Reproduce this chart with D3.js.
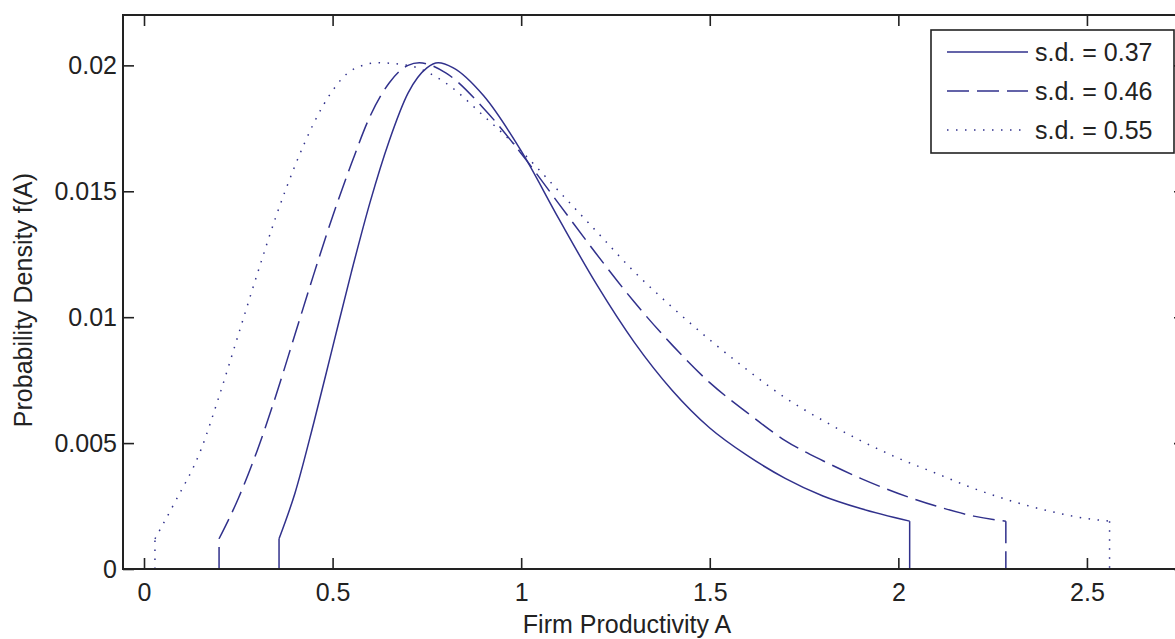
<!DOCTYPE html>
<html lang="en">
<head>
<meta charset="utf-8" />
<title>Firm Productivity Density</title>
<script src="https://d3js.org/d3.v7.min.js"></script>
<style>
  body { margin: 0; background: #fff; }
  svg { display: block; }
  .axis text { font-family: "Liberation Sans", Arial, sans-serif; font-size: 25px; fill: #222; }
  .axis line { stroke: #222; stroke-width: 1.6; }
  .axis path { display: none; }
  .lab { font-family: "Liberation Sans", Arial, sans-serif; font-size: 25px; fill: #222; }
</style>
</head>
<body>
<div id="chart"></div>
<script>
var width = 1175;
var height = 639;

// values
var xTicks = [0, 0.5, 1, 1.5, 2, 2.5];
var xTickLabels = ["0", "0.5", "1", "1.5", "2", "2.5"];
var yTicks = [0, 0.005, 0.01, 0.015, 0.02];
var yTickLabels = ["0", "0.005", "0.01", "0.015", "0.02"];

var seriesNames = ["s.d. = 0.37", "s.d. = 0.46", "s.d. = 0.55"];

var sd37x = [0.358, 0.358, 0.40, 0.45, 0.50, 0.55, 0.60, 0.65, 0.70, 0.75, 0.78, 0.82, 0.90, 1.00, 1.10, 1.20, 1.30, 1.40, 1.50, 1.60, 1.70, 1.80, 1.90, 2.03, 2.03];
var sd37y = [0, 0.0012, 0.0030, 0.0058, 0.0088, 0.0118, 0.0146, 0.0170, 0.0189, 0.0199, 0.0201, 0.0199, 0.0188, 0.0166, 0.0139, 0.0113, 0.0090, 0.0071, 0.0056, 0.0045, 0.0036, 0.0029, 0.0024, 0.0019, 0];

var sd46x = [0.199, 0.199, 0.25, 0.30, 0.35, 0.40, 0.45, 0.50, 0.55, 0.60, 0.65, 0.70, 0.73, 0.80, 0.90, 1.00, 1.10, 1.20, 1.30, 1.40, 1.50, 1.60, 1.70, 1.80, 1.90, 2.00, 2.10, 2.20, 2.285, 2.285];
var sd46y = [0, 0.0012, 0.0028, 0.0047, 0.0069, 0.0093, 0.0117, 0.0140, 0.0161, 0.0180, 0.0193, 0.0200, 0.0201, 0.0197, 0.0183, 0.0165, 0.0145, 0.0125, 0.0106, 0.0089, 0.0074, 0.0062, 0.0051, 0.0043, 0.0036, 0.0030, 0.0025, 0.0021, 0.0019, 0];

var sd55x = [0.029, 0.029, 0.08, 0.15, 0.20, 0.25, 0.30, 0.35, 0.40, 0.45, 0.50, 0.55, 0.62, 0.70, 0.80, 0.90, 1.00, 1.10, 1.20, 1.30, 1.40, 1.50, 1.60, 1.70, 1.80, 1.90, 2.00, 2.10, 2.20, 2.30, 2.40, 2.50, 2.56, 2.56];
var sd55y = [0, 0.0012, 0.0026, 0.0047, 0.0069, 0.0093, 0.0117, 0.0140, 0.0160, 0.0177, 0.0190, 0.0198, 0.0201, 0.0200, 0.0193, 0.0180, 0.0166, 0.0150, 0.0134, 0.0118, 0.0104, 0.0091, 0.0079, 0.0068, 0.0059, 0.0051, 0.0044, 0.0038, 0.0032, 0.0027, 0.0023, 0.0020, 0.0019, 0];

var lineColor = "#31318c";
var dashes = [null, "22,8", "1.5,7.5"];

// plot box (right edge sits just past the window, as in the picture)
var boxLeft = 123, boxRight = 1185, boxTop = 15, boxBottom = 569;

var xScale = d3.scaleLinear().domain([-0.0557, 2.76]).range([boxLeft, boxRight]);
var yScale = d3.scaleLinear().domain([0, 0.022]).range([boxBottom, boxTop]);

var svg = d3.select("#chart")
  .append("svg")
  .attr("width", width)
  .attr("height", height);

function zipUp(xs, ys) {
  return xs.map(function(x, i) { return {x: x, y: ys[i]}; });
}
var series = [zipUp(sd37x, sd37y), zipUp(sd46x, sd46y), zipUp(sd55x, sd55y)];

var smooth = d3.line()
  .x(function(d) { return xScale(d.x); })
  .y(function(d) { return yScale(d.y); })
  .curve(d3.curveMonotoneX);

var straight = d3.line()
  .x(function(d) { return xScale(d.x); })
  .y(function(d) { return yScale(d.y); });

// curves: smooth body, straight drops at the truncation points
series.forEach(function(s, i) {
  var n = s.length;
  var parts = [
    {pts: s.slice(1, n - 1), gen: smooth},
    {pts: s.slice(0, 2), gen: straight},
    {pts: s.slice(n - 2), gen: straight}
  ];
  parts.forEach(function(p) {
    svg.append("path")
      .datum(p.pts)
      .attr("fill", "none")
      .attr("stroke", lineColor)
      .attr("stroke-width", 1.5)
      .attr("stroke-dasharray", dashes[i])
      .attr("d", p.gen);
  });
});

// axes, ticks pointing inwards like matlab
svg.append("g")
  .attr("class", "axis")
  .attr("transform", "translate(0," + boxBottom + ")")
  .call(d3.axisBottom(xScale).tickValues(xTicks)
    .tickFormat(function(d, i) { return xTickLabels[i]; })
    .tickSizeInner(-11).tickSizeOuter(0).tickPadding(14));

svg.append("g")
  .attr("class", "axis")
  .attr("transform", "translate(0," + boxTop + ")")
  .call(d3.axisTop(xScale).tickValues(xTicks)
    .tickFormat("").tickSizeInner(-11).tickSizeOuter(0));

svg.append("g")
  .attr("class", "axis")
  .attr("transform", "translate(" + boxLeft + ",0)")
  .call(d3.axisLeft(yScale).tickValues(yTicks)
    .tickFormat(function(d, i) { return yTickLabels[i]; })
    .tickSizeInner(-11).tickSizeOuter(0).tickPadding(6));

svg.append("g")
  .attr("class", "axis")
  .attr("transform", "translate(" + boxRight + ",0)")
  .call(d3.axisRight(yScale).tickValues(yTicks)
    .tickFormat("").tickSizeInner(-11).tickSizeOuter(0));

// box
svg.append("rect")
  .attr("x", boxLeft).attr("y", boxTop)
  .attr("width", boxRight - boxLeft).attr("height", boxBottom - boxTop)
  .attr("fill", "none")
  .attr("stroke", "#222")
  .attr("stroke-width", 2);

// axis labels
svg.append("text")
  .attr("class", "lab")
  .attr("x", (boxLeft + boxRight) / 2 - 27)
  .attr("y", 633)
  .attr("text-anchor", "middle")
  .text("Firm Productivity A");

svg.append("text")
  .attr("class", "lab")
  .attr("transform", "translate(32," + ((boxTop + boxBottom) / 2 + 8) + ") rotate(-90)")
  .attr("text-anchor", "middle")
  .text("Probability Density f(A)");

// legend
var legend = svg.append("g").attr("transform", "translate(931,30)");
legend.append("rect")
  .attr("width", 243).attr("height", 123)
  .attr("fill", "#fff")
  .attr("stroke", "#222")
  .attr("stroke-width", 1.6);

seriesNames.forEach(function(name, i) {
  var yy = 22 + i * 39;
  legend.append("line")
    .attr("x1", 16).attr("x2", 97)
    .attr("y1", yy).attr("y2", yy)
    .attr("stroke", lineColor)
    .attr("stroke-width", 1.5)
    .attr("stroke-dasharray", dashes[i]);
  legend.append("text")
    .attr("class", "lab")
    .attr("x", 104).attr("y", yy + 9)
    .text(name);
});
</script>
</body>
</html>
